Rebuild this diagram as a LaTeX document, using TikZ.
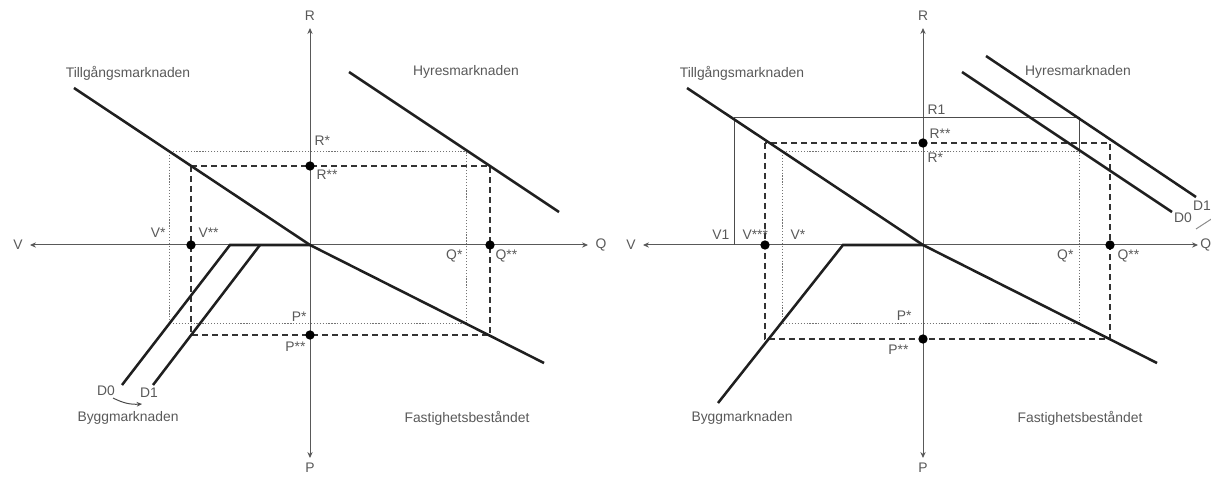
\documentclass[tikz,border=0pt]{standalone}
\usepackage{fontspec}
\setmainfont{Liberation Sans}
\usetikzlibrary{arrows.meta}

\begin{document}
\begin{tikzpicture}[x=0.75pt,y=-0.75pt,font=\fontsize{10.4}{12}\selectfont]

\tikzset{
    axel/.style={line width=0.75pt, black!65, {Stealth[length=4.5pt,width=4pt]}-{Stealth[length=4.5pt,width=4pt]}},
    kurva/.style={line width=1.9pt, black!88},
    prickad/.style={line width=0.75pt, black!55, dash pattern=on 0.9pt off 1.3pt},
    streckad/.style={line width=1.6pt, black!80, dash pattern=on 4.5pt off 3pt},
    tunn/.style={line width=0.75pt, black!70},
    punkt/.style={circle, fill=black, inner sep=0pt, minimum size=7pt},
    etikett/.style={text=black!65, inner sep=1pt}
}

\useasboundingbox (0,0) rectangle (1211,477);

% ---------------- vänster diagram ----------------
\coordinate (O1) at (310,245);

% Axlar
\node[etikett] (V1lab) at (18,245) {V};
\node[etikett] (Q1lab) at (601,245) {Q};
\node[etikett] (R1lab) at (310,16) {R};
\node[etikett] (P1lab) at (310,468) {P};
\draw[axel] (30,245) -- (588,245);
\draw[axel] (310,28) -- (310,458);

% prickad rektangel (*)
\draw[prickad] (169,152) rectangle (466,324);
% streckad rektangel (**)
\draw[streckad] (191,166) rectangle (490,335);

% marknaderna
\draw[kurva] (74,88) -- (O1);
\draw[kurva] (349,72) -- (559,212);
\draw[kurva] (O1) -- (544,363);
\draw[kurva] (O1) -- (230,245) -- (122,385);
\draw[kurva] (260,245) -- (153,385);

% punkter
\node[punkt] (Rss1) at (310,166) {};
\node[punkt] (Vss1) at (191,245) {};
\node[punkt] (Qss1) at (490,245) {};
\node[punkt] (Pss1) at (310,335) {};

% texter
\node[etikett] (till1) at (128,73) {Tillgångsmarknaden};
\node[etikett] (hyr1) at (466,72) {Hyresmarknaden};
\node[etikett] (fast1) at (467,418) {Fastighetsbeståndet};
\node[etikett] (bygg1) at (128,418) {Byggmarknaden};
\node[etikett] (D0a) at (106,391) {D0};
\node[etikett] (D1a) at (149,393) {D1};
\draw[tunn, -{Stealth[length=4pt,width=3.5pt]}] (113,398) to[bend right=15] (142,404);

\node[etikett, anchor=west] at (313,141) {R*};
\node[etikett, anchor=west] at (315,175) {R**};
\node[etikett, anchor=east] at (167,233) {V*};
\node[etikett, anchor=west] at (197,233) {V**};
\node[etikett, anchor=east] at (464,256) {Q*};
\node[etikett, anchor=west] at (494,256) {Q**};
\node[etikett, anchor=east] at (308,317) {P*};
\node[etikett, anchor=east] at (307,347) {P**};

% ---------------- höger diagram ----------------
\coordinate (O2) at (923,245);

% Axlar
\node[etikett] (V2lab) at (631,245) {V};
\node[etikett, anchor=west, inner sep=0pt] (Q2lab) at (1200,245) {Q};
\node[etikett] (R2lab) at (923,16) {R};
\node[etikett] (P2lab) at (923,468) {P};
\draw[axel] (643,245) -- (1198,245);
\draw[axel] (923,28) -- (923,458);

% R1 / V1
\draw[tunn] (734,245) -- (734,118) -- (1079,118) -- (1079,152);
% prickad rektangel (*)
\draw[prickad] (782,152) rectangle (1079,324);
% streckad rektangel (**)
\draw[streckad] (765,143) rectangle (1110,339);

% marknaderna
\draw[kurva] (687,88) -- (O2);
\draw[kurva] (962,72) -- (1172,212);
\draw[kurva] (986,56) -- (1196,197);
\draw[kurva] (O2) -- (1157,363);
\draw[kurva] (O2) -- (843,245) -- (718,403);

% punkter
\node[punkt] (Rss2) at (923,143) {};
\node[punkt] (Vss2) at (765,245) {};
\node[punkt] (Qss2) at (1110,245) {};
\node[punkt] (Pss2) at (923,339) {};

% texter
\node[etikett] (till2) at (742,73) {Tillgångsmarknaden};
\node[etikett] (hyr2) at (1078,72) {Hyresmarknaden};
\node[etikett] (fast2) at (1080,418) {Fastighetsbeståndet};
\node[etikett] (bygg2) at (742,418) {Byggmarknaden};
\node[etikett] (D0b) at (1183,218) {D0};
\node[etikett, anchor=east, inner sep=0pt] (D1b) at (1211,206) {D1};
\draw[tunn, black!45] (1196,229) -- (1216,216);

\node[etikett, anchor=west] at (926,110) {R1};
\node[etikett, anchor=west] at (928,134) {R**};
\node[etikett, anchor=west] at (926,158) {R*};
\node[etikett, anchor=east] at (731,235) {V1};
\node[etikett, anchor=west] at (741,235) {V***};
\node[etikett, anchor=west] at (789,235) {V*};
\node[etikett, anchor=east] at (1075,256) {Q*};
\node[etikett, anchor=west] at (1116,256) {Q**};
\node[etikett, anchor=east] at (913,316) {P*};
\node[etikett, anchor=east] at (910,350) {P**};

\end{tikzpicture}
\end{document}
